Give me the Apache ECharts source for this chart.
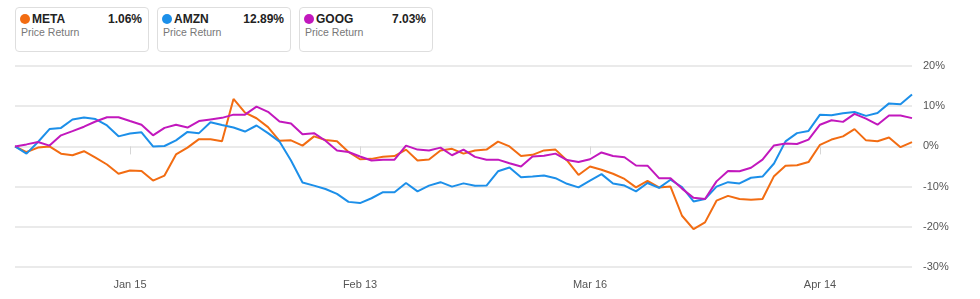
<!DOCTYPE html>
<html>
<head>
<meta charset="utf-8">
<script src="https://cdn.jsdelivr.net/npm/echarts@6/dist/echarts.min.js"></script>
<style>
  html, body { margin: 0; padding: 0; background: #fff; }
  #wrap { position: relative; width: 980px; height: 299px; font-family: "Liberation Sans", Arial, sans-serif; }
  #chart { position: absolute; left: 0; top: 0; width: 980px; height: 299px; }
  .card { position: absolute; top: 7px; width: 134px; height: 45px; border: 1px solid #dedede; border-radius: 4px; box-sizing: border-box; background: #fff; z-index: 2; }
  .dot { position: absolute; left: 4px; top: 6px; width: 10px; height: 10px; border-radius: 50%; }
  .name { position: absolute; left: 16px; top: 4px; font-size: 12px; font-weight: bold; color: #222; }
  .val { position: absolute; right: 6px; top: 4px; font-size: 12px; font-weight: bold; color: #222; }
  .sub { position: absolute; left: 5px; top: 18px; font-size: 10.5px; color: #777; }
</style>
</head>
<body>
<div id="wrap">
  <div id="chart"></div>
  <div id="cards"></div>
</div>
<script>
// ---- data ----
const tickIndex = [10, 30, 50, 70];
const tickLabels = ['Jan 15', 'Feb 13', 'Mar 16', 'Apr 14'];
const seriesNames = ['META', 'AMZN', 'GOOG'];
const seriesColors = ['#F26C12', '#1C8FE9', '#C218BD'];

const meta = [0, -1.4, -0.3, 0, -1.8, -2.2, -1.2, -2.8, -4.5, -6.8,
  -6.0, -6.1, -8.5, -7.25, -2.0, -0.3, 1.8, 1.8, 1.3, 11.8,
  8.4, 7.0, 4.8, 1.4, 1.5, 0.2, 2.5, 1.6, 1.3, -1.4,
  -3.2, -3.1, -2.6, -2.4, -0.8, -3.5, -3.25, -1.0, -0.6, -1.8,
  -1.0, -0.8, 1.2, 0, -2.4, -2.1, -1.0, -0.8, -3.5, -7.1,
  -5.0, -5.8, -6.8, -8.1, -10.2, -8.6, -10.2, -10.0, -17.25, -20.6,
  -18.9, -13.5, -12.3, -13.1, -13.3, -13.1, -7.4, -4.8, -4.7, -3.9,
  0.4, 1.7, 2.5, 4.3, 1.5, 1.3, 2.2, -0.2, 1.06];

const amzn = [0, -1.8, 1.1, 4.3, 4.6, 6.7, 7.2, 6.8, 5.2, 2.5,
  3.2, 3.5, 0, 0.1, 1.5, 3.6, 3.3, 6.0, 5.3, 4.7,
  3.7, 5.2, 3.3, 1.2, -3.5, -9.0, -9.75, -10.6, -11.8, -13.8,
  -14.1, -12.9, -11.4, -11.4, -9.1, -11.2, -9.75, -8.9, -10.0, -9.2,
  -9.8, -9.75, -6.2, -5.25, -7.7, -7.5, -7.25, -7.9, -9.3, -10.2,
  -8.5, -6.9, -9.25, -9.75, -11.2, -9.1, -10.3, -8.3, -10.1, -13.7,
  -13.1, -10.0, -8.9, -9.2, -7.8, -7.5, -4.25, 1.25, 3.3, 3.85,
  7.9, 7.75, 8.25, 8.55, 7.6, 8.3, 10.7, 10.5, 12.89];

const goog = [0, 0.5, 1.1, 0.2, 2.75, 3.8, 4.9, 6.2, 7.25, 7.25,
  6.3, 5.4, 2.75, 4.6, 5.4, 4.7, 6.3, 6.7, 7.1, 7.9,
  7.9, 9.9, 8.6, 6.2, 5.7, 3.0, 3.3, 1.4, -1.0, -1.4,
  -2.5, -3.5, -3.3, -3.3, 0.2, -0.8, -1.0, -0.3, -2.2, -0.8,
  -2.6, -3.3, -3.3, -4.2, -5.0, -2.5, -2.3, -1.8, -3.4, -3.9,
  -3.2, -1.5, -2.4, -2.7, -4.75, -4.8, -7.9, -7.9, -10.5, -12.8,
  -13.1, -8.7, -6.1, -6.2, -5.3, -3.3, 0.25, 0.7, 0.6, 1.7,
  5.4, 6.5, 6.1, 8.1, 6.9, 5.4, 7.7, 7.7, 7.03];

const yMin = -30, yMax = 20, yStep = 10;

// ---- build ----
const allData = [meta, amzn, goog];
const categories = meta.map((_, i) => String(i));
const labelOf = {};
tickIndex.forEach((idx, k) => { labelOf[idx] = tickLabels[k]; });

// cards
const cards = document.getElementById('cards');
seriesNames.forEach((nm, k) => {
  const d = allData[k];
  const last = d[d.length - 1];
  const c = document.createElement('div');
  c.className = 'card';
  c.style.left = (15 + k * 142) + 'px';
  c.innerHTML = '<div class="dot" style="background:' + seriesColors[k] + '"></div>' +
    '<div class="name">' + nm + '</div>' +
    '<div class="val">' + last.toFixed(2) + '%</div>' +
    '<div class="sub">Price Return</div>';
  cards.appendChild(c);
});

const chart = echarts.init(document.getElementById('chart'), null, { renderer: 'canvas' });
chart.setOption({
  animation: false,
  textStyle: { fontFamily: '"Liberation Sans", Arial, sans-serif' },
  grid: { left: 15, right: 68, top: 66, bottom: 32 },
  xAxis: {
    type: 'category',
    data: categories,
    boundaryGap: false,
    axisLine: { show: false },
    axisTick: {
      show: true,
      length: 8,
      interval: (i) => labelOf[i] !== undefined,
      lineStyle: { color: '#d6d6d6' }
    },
    axisLabel: {
      interval: (i) => labelOf[i] !== undefined,
      formatter: (v, i) => labelOf[i] || '',
      color: '#555',
      fontSize: 11,
      margin: 12
    },
    splitLine: { show: false }
  },
  yAxis: {
    type: 'value',
    position: 'right',
    min: yMin, max: yMax, interval: yStep,
    axisLine: { show: false },
    axisTick: { show: false },
    axisLabel: { formatter: (v) => v + '%', color: '#555', fontSize: 11, margin: 11 },
    splitLine: { lineStyle: { color: '#e3e3e3', width: 1.5 } }
  },
  series: seriesNames.map((nm, k) => ({
    name: nm,
    type: 'line',
    data: allData[k],
    symbol: 'none',
    lineStyle: { color: seriesColors[k], width: 2 },
    itemStyle: { color: seriesColors[k] }
  }))
});
</script>
</body>
</html>
